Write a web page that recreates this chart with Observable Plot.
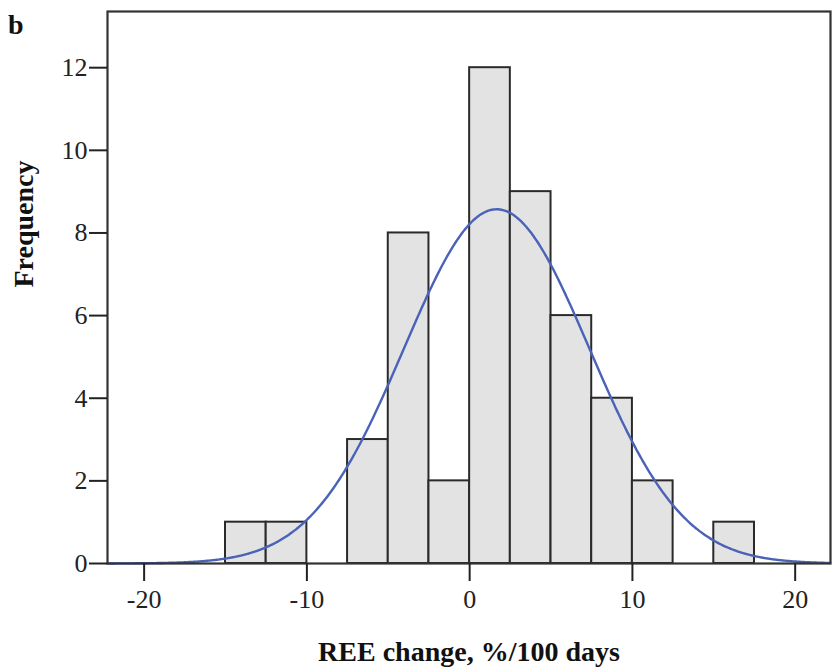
<!DOCTYPE html>
<html>
<head>
<meta charset="utf-8">
<script src="https://cdn.jsdelivr.net/npm/d3@7"></script>
<script src="https://cdn.jsdelivr.net/npm/@observablehq/plot@0.6"></script>
<style>
  html, body { margin: 0; padding: 0; background: #fff; }
  #wrap { position: relative; width: 833px; height: 671px; }
  #panel { position: absolute; left: 8px; top: 9px; font: bold 28px "Liberation Serif", "Times New Roman", serif; color: #111; }
</style>
</head>
<body>
<div id="wrap"><div id="panel">b</div></div>
<script>
// Histogram bins (lower edge) and frequencies
const binStarts = [-15, -12.5, -7.5, -5, -2.5, 0, 2.5, 5, 7.5, 10, 15];
const counts    = [1, 1, 3, 8, 2, 12, 9, 6, 4, 2, 1];
const binWidth = 2.5;
// Fitted normal curve parameters
const fitMean = 1.66;
const fitSD = 5.7;
const fitN = 49;
const xTicks = [-20, -10, 0, 10, 20];
const yTicks = [0, 2, 4, 6, 8, 10, 12];
const xTitle = "REE change, %/100 days";
const yTitle = "Frequency";

const bars = binStarts.map((s, i) => ({x1: s, x2: s + binWidth, y: counts[i]}));
const xDomain = [-22.25, 22.17];
const curve = d3.range(xDomain[0], xDomain[1] + 0.001, 0.1).map(x => ({
  x,
  y: fitN * binWidth / (fitSD * Math.sqrt(2 * Math.PI)) * Math.exp(-((x - fitMean) ** 2) / (2 * fitSD * fitSD))
}));

const font = '"Liberation Serif", "Times New Roman", serif';
const chart = Plot.plot({
  width: 833,
  height: 671,
  marginLeft: 107,
  marginRight: 3,
  marginTop: 11,
  marginBottom: 108,
  style: {fontFamily: font, fontSize: "26px", color: "#222", background: "#fff"},
  x: {domain: xDomain},
  y: {domain: [0, 13.36]},
  marks: [
    Plot.rectY(bars, {x1: "x1", x2: "x2", y: "y", fill: "#e3e3e3", stroke: "#2a2a2a", strokeWidth: 2}),
    Plot.line(curve, {x: "x", y: "y", stroke: "#4a62b8", strokeWidth: 2.4, curve: "basis"}),
    Plot.frame({stroke: "#333", strokeWidth: 2.2}),
    Plot.axisX({ticks: xTicks, tickFormat: d => String(d), tickSize: 18, tickPadding: 8, stroke: "#222", strokeWidth: 2, label: null}),
    Plot.axisY({ticks: yTicks, tickFormat: d => String(d), tickSize: 18, tickPadding: 2, stroke: "#222", strokeWidth: 2, label: null}),
    Plot.text([xTitle], {text: d => d, frameAnchor: "bottom", dy: 97, fontSize: 28, fontWeight: "bold", fill: "#111"}),
    Plot.text([yTitle], {text: d => d, frameAnchor: "left", dx: -83, rotate: -90, fontSize: 28, fontWeight: "bold", fill: "#111"})
  ]
});
document.getElementById("wrap").prepend(chart);
</script>
</body>
</html>
